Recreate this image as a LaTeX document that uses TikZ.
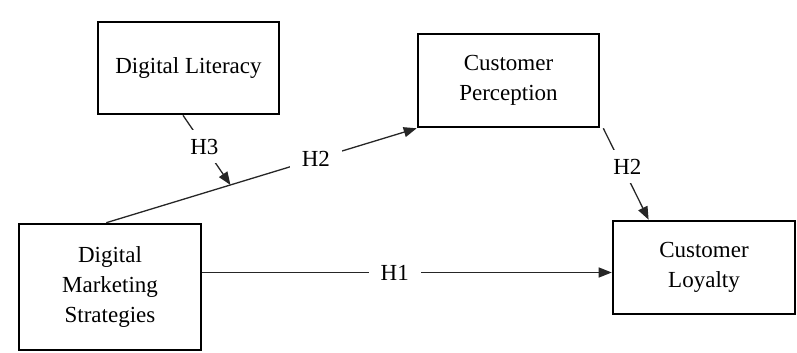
\documentclass[tikz,border=0pt]{standalone}
\usepackage{fontspec}
\setmainfont{Liberation Serif}
\usetikzlibrary{arrows.meta,calc}

\tikzset{
  box/.style={draw, line width=2.6pt, minimum width=181pt, align=center,
    font=\fontsize{23}{30}\selectfont},
  hyp/.style={fill=white, inner xsep=12pt, inner ysep=9pt,
    font=\fontsize{23}{30}\selectfont},
  link/.style={draw=black!85, line width=1.3pt, -{Triangle[length=13pt,width=10pt]}}
}

\begin{document}
\begin{tikzpicture}[x=1pt, y=-1pt]
  \useasboundingbox (0,0) rectangle (797,353);
  % the four constructs
  \node[box, minimum height=92pt] (lit) at (188.5,68) {Digital Literacy};
  \node[box, minimum height=93pt] (perc) at (508.5,80.5) {Customer\\Perception};
  \node[box, minimum width=182pt, minimum height=126pt] (dms) at (110,287) {Digital\\Marketing\\Strategies};
  \node[box, minimum width=182pt, minimum height=93pt] (loyal) at (704,267.5) {Customer\\Loyalty};
  % hypotheses
  \coordinate (mod) at ($($(dms.north west)!0.48!(dms.north east)$)!0.4!(perc.south west)$);
  \coordinate (h1end) at ([yshift=-5pt]loyal.west);
  \draw[link] ($(dms.north west)!0.48!(dms.north east)$) -- node[hyp, pos=0.675] {H2} (perc.south west);
  \draw[link] ($(lit.south west)!0.47!(lit.south east)$) -- node[hyp, pos=0.45] {H3} (mod);
  \draw[link] ([xshift=3pt]perc.south east) -- node[hyp, pos=0.42, xshift=5pt] {H2} ($(loyal.north west)!0.2!(loyal.north east)$);
  \draw[link] (dms.east |- h1end) -- node[hyp, pos=0.47] {H1} (h1end);
\end{tikzpicture}
\end{document}
